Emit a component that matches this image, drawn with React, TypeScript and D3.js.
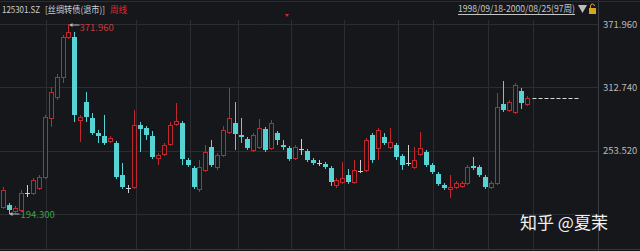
import React from 'react';
import * as d3 from 'd3';

const W = 640;
const H = 251;

const opens = [
  200.9, 202.7, 197.1, 198.1, 214.1, 213.9, 218.6, 228.9, 284.1, 303.7,
  322.4, 359.8, 359.8, 282.2, 299.0, 284.1, 270.0, 267.2, 262.6, 260.7,
  230.8, 218.6, 219.6, 277.5, 274.7, 267.2, 246.7, 250.4, 259.8, 278.5,
  279.4, 244.8, 237.3, 217.7, 235.5, 257.0, 238.3, 249.5, 271.0, 279.4,
  268.2, 264.4, 254.2, 257.0, 273.8, 256.0, 270.0, 258.8, 256.0, 246.7,
  255.1, 253.2, 244.8, 242.0, 241.1, 237.3, 221.4, 224.2, 230.8, 224.2,
  234.5, 235.5, 268.2, 256.0, 266.3, 257.0, 258.8, 248.5, 242.0, 238.3,
  250.4, 252.3, 240.1, 231.7, 221.4, 217.7, 219.6, 220.5, 223.3, 239.2,
  238.3, 228.9, 219.6, 223.3, 297.2, 291.6, 289.7, 309.3, 297.2,
];
const highs = [
  219.6, 204.6, 201.8, 216.8, 221.4, 228.0, 230.8, 286.9, 313.1, 325.2,
  361.7, 371.96, 364.5, 286.9, 308.4, 288.7, 272.9, 286.9, 267.2, 262.6,
  242.0, 221.4, 291.6, 280.3, 276.6, 271.9, 251.3, 260.7, 280.3, 298.1,
  281.3, 246.7, 239.2, 244.8, 258.8, 263.5, 251.3, 276.6, 312.1, 299.0,
  284.1, 266.3, 270.0, 283.1, 275.7, 282.2, 271.9, 263.5, 257.9, 258.8,
  264.4, 255.1, 246.7, 244.8, 242.9, 239.2, 228.0, 242.9, 236.4, 244.8,
  244.8, 265.4, 270.0, 274.7, 270.0, 274.7, 260.7, 250.4, 258.8, 257.0,
  271.0, 254.2, 242.0, 233.6, 223.3, 230.8, 225.2, 225.2, 240.1, 247.6,
  240.1, 230.8, 225.2, 307.5, 318.7, 300.9, 316.8, 312.1, 304.6,
];
const lows = [
  199.0, 194.3, 195.2, 196.2, 210.2, 212.1, 216.8, 227.0, 275.7, 300.9,
  316.8, 357.9, 280.3, 261.6, 280.3, 268.2, 260.7, 258.8, 260.7, 227.0,
  217.7, 213.9, 217.7, 252.3, 263.5, 245.7, 240.1, 248.5, 257.9, 276.6,
  240.1, 238.3, 217.7, 214.9, 233.6, 238.3, 235.5, 247.6, 269.1, 254.2,
  260.7, 254.2, 252.3, 255.1, 252.3, 254.2, 258.8, 254.2, 243.9, 244.8,
  249.5, 242.9, 240.1, 239.2, 236.4, 220.5, 218.6, 222.4, 222.4, 222.4,
  232.6, 233.6, 242.0, 244.8, 258.8, 255.1, 244.8, 235.5, 239.2, 236.4,
  248.5, 238.3, 231.7, 220.5, 216.8, 209.3, 217.7, 218.6, 221.4, 235.5,
  228.9, 217.7, 217.7, 221.4, 289.7, 289.7, 287.8, 292.5, 295.3,
];
const closes = [
  216.8, 198.1, 199.9, 213.9, 213.9, 226.1, 228.9, 285.0, 308.4, 322.4,
  359.8, 364.5, 286.9, 285.0, 285.0, 270.0, 267.2, 260.7, 265.4, 228.9,
  219.6, 218.4, 277.5, 273.8, 268.2, 247.6, 249.5, 258.8, 277.5, 281.3,
  245.7, 240.1, 219.6, 238.3, 252.3, 240.1, 249.5, 272.9, 284.1, 269.1,
  266.3, 256.0, 268.2, 274.7, 254.2, 279.4, 263.5, 257.0, 245.7, 257.0,
  255.0, 244.8, 242.0, 241.9, 238.3, 224.2, 226.1, 228.0, 224.2, 235.5,
  234.4, 263.5, 244.8, 272.9, 260.7, 261.6, 247.6, 240.1, 241.9, 244.8,
  256.0, 240.1, 233.6, 222.4, 218.6, 219.6, 223.3, 223.3, 238.3, 237.3,
  230.8, 219.6, 223.3, 294.4, 291.6, 299.0, 314.9, 298.1, 302.8,
];

const yTicks = [371.96, 312.74, 253.52, 194.3];
const gridIdx = [7.2, 22.2, 31.4, 39.3, 48.2, 57.1, 66.2, 72.2, 81.3, 89.0];
const maxLabel = '371.960';
const minLabel = '194.300';
const title = '125301.SZ';
const bondName = '[丝绸转债(退市)]';
const period = '周线';
const rangeLabel = '1998/09/18-2000/08/25(97周)';
const watermark = '知乎 @夏茉';

const BG = '#15171b';
const GRID = '#2a2d33';
const UP = '#c0282e';
const DOWN = '#56d3d5';
const DOJI = '#cfcfcf';
const FONT = '"Noto Sans CJK SC", "Noto Sans", sans-serif';

export default function App() {
  const n = opens.length;
  const plotRight = 598;
  const x = d3.scaleBand<number>().domain(d3.range(n)).range([0, 530]).paddingInner(0.3).paddingOuter(0.15);
  const bw = Math.max(3, Math.round(x.bandwidth()));
  const cx = (i: number) => Math.round((x(i) as number) + x.bandwidth() / 2) + 0.5;
  const xIdx = d3.scaleLinear().domain([0, n - 1]).range([cx(0), cx(n - 1)]);
  const y = d3.scaleLinear().domain([194.3, 371.96]).range([214, 24]);

  const maxI = highs.indexOf(d3.max(highs) as number);
  const minI = lows.indexOf(d3.min(lows) as number);
  const lastClose = closes[n - 1];

  const fmt = d3.format('.3f');

  return (
    <svg width={W} height={H} style={{ position: 'fixed', left: 0, top: 0, background: BG }} fontFamily={FONT}>
      <rect width={W} height={H} fill={BG} />
      {yTicks.map((t) => (
        <line key={t} x1={0} x2={plotRight} y1={Math.round(y(t)) + 0.5} y2={Math.round(y(t)) + 0.5} stroke={GRID} />
      ))}
      {gridIdx.map((g) => (
        <line key={g} x1={Math.round(xIdx(g)) + 0.5} x2={Math.round(xIdx(g)) + 0.5} y1={20} y2={250} stroke={GRID} />
      ))}
      <line x1={plotRight + 0.5} x2={plotRight + 0.5} y1={0} y2={H} stroke="#3a3d43" />
      <line x1={0} x2={W} y1={249.5} y2={249.5} stroke="#33363c" />
      <line x1={0} x2={W} y1={1.5} y2={1.5} stroke="#2a2d33" />

      {opens.map((o, i) => {
        const c = closes[i];
        const hi = highs[i];
        const lo = lows[i];
        const X = cx(i);
        const left = X - bw / 2;
        if (Math.abs(o - c) < 0.5) {
          const yy = Math.round(y(c)) + 0.5;
          return (
            <g key={i}>
              <line x1={X} x2={X} y1={y(hi)} y2={y(lo)} stroke={DOJI} />
              <line x1={left - 0.5} x2={left + bw + 0.5} y1={yy} y2={yy} stroke={DOJI} />
            </g>
          );
        }
        const up = c > o;
        const top = Math.round(y(Math.max(o, c)));
        const bot = Math.round(y(Math.min(o, c)));
        if (up) {
          return (
            <g key={i}>
              <line x1={X} x2={X} y1={y(hi)} y2={y(lo)} stroke={UP} />
              <rect x={left} y={top + 0.5} width={bw} height={Math.max(1, bot - top)} fill={BG} stroke={UP} />
            </g>
          );
        }
        return (
          <g key={i}>
            <line x1={X} x2={X} y1={y(hi)} y2={y(lo)} stroke={DOWN} />
            <rect x={left - 0.5} y={top} width={bw + 1} height={Math.max(1.5, bot - top)} fill={DOWN} />
          </g>
        );
      })}

      <line
        x1={cx(n - 1) + 5}
        x2={cx(n - 1) + 51}
        y1={Math.round(y(lastClose)) + 0.5}
        y2={Math.round(y(lastClose)) + 0.5}
        stroke="#d8d8d8"
        strokeDasharray="4,2"
      />

      <g>
        <line x1={cx(maxI) + 1} x2={cx(maxI) + 11} y1={y(highs[maxI]) + 1} y2={y(highs[maxI]) + 1} stroke="#bbbbbb" />
        <path d={`M${cx(maxI) + 1},${y(highs[maxI]) + 1} l3,-2 l0,4 z`} fill="#bbbbbb" />
        <text x={cx(maxI) + 11} y={y(highs[maxI]) + 4} fontSize={9.5} fill="#c8383c" dominantBaseline="middle">{maxLabel}</text>
      </g>
      <g>
        <line x1={cx(minI)} x2={cx(minI) + 10} y1={y(lows[minI])} y2={y(lows[minI])} stroke="#bbbbbb" />
        <path d={`M${cx(minI)},${y(lows[minI])} l3,-2 l0,4 z`} fill="#bbbbbb" />
        <text x={cx(minI) + 11} y={y(lows[minI]) + 1} fontSize={9.5} fill="#3aa63f" dominantBaseline="middle">{minLabel}</text>
      </g>

      {yTicks.slice(0, 3).map((t) => (
        <text key={t} x={603} y={y(t) + 1} fontSize={9.5} fill="#b9b9b9" dominantBaseline="middle">{fmt(t)}</text>
      ))}

      <text x={2} y={13} fontSize={9} fill="#cfcfcf" textLength={38} lengthAdjust="spacingAndGlyphs">{title}</text>
      <text x={45} y={13} fontSize={9} fill="#cfcfcf" textLength={60} lengthAdjust="spacingAndGlyphs">{bondName}</text>
      <text x={110} y={13} fontSize={9} fill="#e0262c" textLength={17} lengthAdjust="spacingAndGlyphs">{period}</text>
      <path d="M285,14 l4,0 l-2,3 z" fill="#d02a2a" />
      <text x={458} y={12} fontSize={9.5} fill="#c4c4c4" textLength={117} lengthAdjust="spacingAndGlyphs">{rangeLabel}</text>
      <line x1={458} x2={575} y1={14.5} y2={14.5} stroke="#c4c4c4" />
      <path d="M578,5 l9,0 l-4.5,8 z" fill="#bdbdbd" />
      <rect x={589} y={8} width={7} height={6} fill="#d9a520" />
      <path d="M590.5,8 v-2 a2,2 0 0 1 4,0" fill="none" stroke="#d9a520" />

      <text x={520} y={229} fontSize={17} fill="#f2f2f2" fontFamily={FONT}>{watermark}</text>
    </svg>
  );
}
